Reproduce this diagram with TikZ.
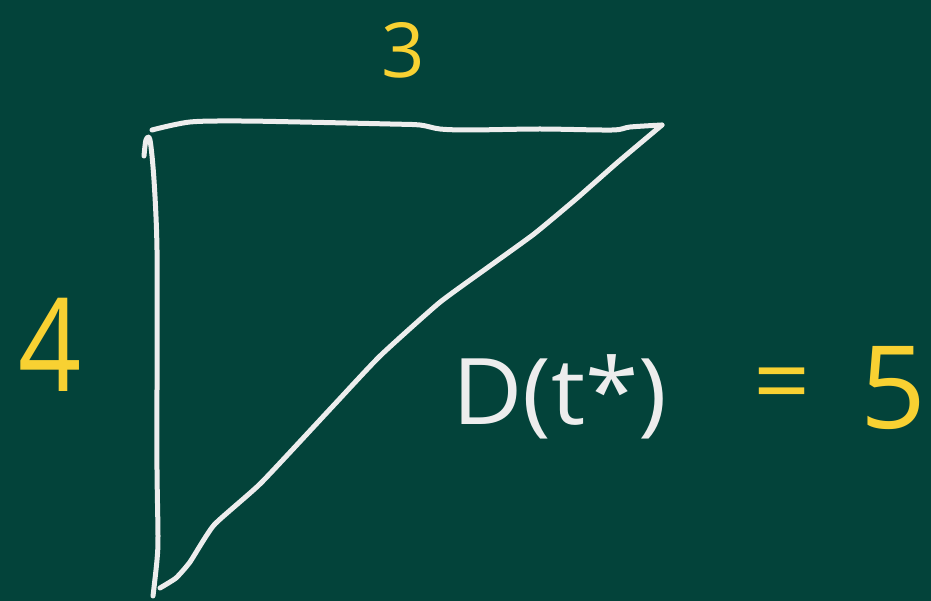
\documentclass[tikz,border=0pt]{standalone}
\usepackage{fontspec}
\setmainfont{Open Sans}
\definecolor{board}{HTML}{03433A}
\definecolor{chalk}{HTML}{EDEDED}
\definecolor{chalkyellow}{HTML}{F8D132}
\tikzset{
  chalkline/.style={draw=chalk, line width=5pt, line cap=round, line join=round},
  ylabel/.style={text=chalkyellow, inner sep=0pt, anchor=center},
  wlabel/.style={text=chalk, inner sep=0pt, anchor=center}
}
\begin{document}
\begin{tikzpicture}[x=1pt,y=-1pt]
\fill[board] (0,0) rectangle (931,601);
\useasboundingbox (0,0) rectangle (931,601);
% corners
\coordinate (A) at (152,130);
\coordinate (B) at (662,125);
\coordinate (C) at (153,596);
% top edge
\draw[chalkline] plot[smooth, tension=0.5] coordinates {(A) (190,122) (240,121) (300,122) (390,124) (420,125) (440,129) (470,130) (540,129) (612,130) (630,127) (B)};
% left edge
\draw[chalkline] plot[smooth, tension=0.5] coordinates {(144,156) (146,140) (150,140) (154,180) (157,250) (157,383) (157,470) (158,536) (157,560) (C)};
% hypotenuse
\draw[chalkline] plot[smooth, tension=0.3] coordinates {(B) (618,162) (576,199) (534,234) (487,268) (439,303) (380,356) (333,406) (261,483) (214,525) (190,562) (176,578) (160,588)};
% labels
\node[ylabel, font=\fontsize{76}{76}\selectfont] (three) at (403,50) {3};
\node[ylabel, font=\fontsize{130}{130}\selectfont, xscale=0.85] (four) at (50,345) {4};
\node[wlabel, font=\fontsize{92}{92}\selectfont, xscale=1.05] (dts) at (560,397) {D(t*)};
\node[ylabel, font=\fontsize{100}{100}\selectfont] (eq) at (782,392) {=};
\node[ylabel, font=\fontsize{115}{115}\selectfont] (five) at (893,388) {5};
\end{tikzpicture}
\end{document}
